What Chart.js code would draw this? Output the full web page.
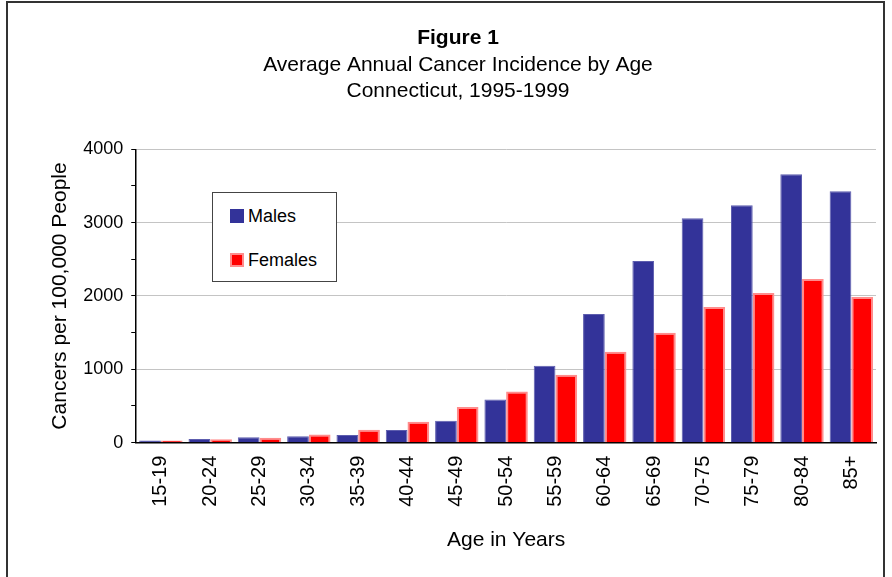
<!DOCTYPE html>
<html>
<head>
<meta charset="utf-8">
<script src="https://cdn.jsdelivr.net/npm/chart.js@4/dist/chart.umd.min.js"></script>
<style>
    body { margin: 0; background: #fff; }
    #wrap { position: relative; width: 892px; height: 577px; overflow: hidden; font-family: "Liberation Sans", Arial, sans-serif; }
    #frame { position: absolute; left: 6px; top: 1px; width: 879px; height: 620px; border: 2px solid #333; box-sizing: border-box; pointer-events: none; }
    #grafico { position: absolute; left: 0; top: 0; }
    #leyenda { position: absolute; left: 212px; top: 192px; width: 125px; height: 90px; border: 1px solid #444; background: #fff; box-sizing: border-box; }
    .item { position: absolute; left: 17px; height: 16px; line-height: 16px; font-size: 18px; color: #000; white-space: nowrap; }
    .item span { display: inline-block; width: 14px; height: 14px; vertical-align: -1px; margin-right: 4px; box-sizing: border-box; }
</style>
</head>
<body>
<div id="wrap">
    <canvas id="grafico" width="892" height="577"></canvas>
    <div id="leyenda">
        <div class="item" style="top:15px"><span id="cuadroM"></span>Males</div>
        <div class="item" style="top:59px"><span id="cuadroF"></span>Females</div>
    </div>
    <div id="frame"></div>
</div>
<script>
// datos
const edades = ["15-19", "20-24", "25-29", "30-34", "35-39", "40-44", "45-49", "50-54",
                "55-59", "60-64", "65-69", "70-75", "75-79", "80-84", "85+"];
const hombres = [30, 50, 72, 86, 104, 172, 299, 590, 1048, 1755, 2476, 3061, 3238, 3660, 3429];
const mujeres = [28, 45, 66, 110, 175, 285, 485, 698, 925, 1238, 1497, 1850, 2041, 2231, 1986];

const COLOR_M = "#333399";
const BORDE_M = "#5d5dae";
const COLOR_F = "#ff0000";
const BORDE_F = "#ff8c8c";

document.getElementById("cuadroM").style.background = COLOR_M;
document.getElementById("cuadroF").style.background = COLOR_F;
document.getElementById("cuadroF").style.border = "2px solid " + BORDE_F;

const fuente = "'Liberation Sans', Arial, sans-serif";

new Chart(document.getElementById("grafico"), {
    type: "bar",
    data: {
        labels: edades,
        datasets: [
            {
                label: "Males",
                data: hombres,
                backgroundColor: COLOR_M,
                borderColor: BORDE_M,
                borderWidth: 1,
                barPercentage: 1,
                categoryPercentage: 0.88
            },
            {
                label: "Females",
                data: mujeres,
                backgroundColor: COLOR_F,
                borderColor: BORDE_F,
                borderWidth: 2,
                barPercentage: 1,
                categoryPercentage: 0.88
            }
        ]
    },
    options: {
        responsive: false,
        animation: false,
        layout: { padding: { left: 40, right: 16, top: 16, bottom: 24 } },
        plugins: {
            legend: { display: false },
            tooltip: { enabled: false },
            title: {
                display: true,
                text: "Figure 1",
                color: "#000",
                font: { family: fuente, size: 21, weight: "bold", lineHeight: 1.2 },
                padding: { top: 10, bottom: 1 }
            },
            subtitle: {
                display: true,
                text: ["Average Annual Cancer Incidence by Age", "Connecticut, 1995-1999"],
                color: "#000",
                font: { family: fuente, size: 21, lineHeight: 1.24 },
                padding: { top: 0, bottom: 45 }
            }
        },
        scales: {
            x: {
                grid: { display: false },
                border: { color: "#000", width: 1.5 },
                ticks: {
                    color: "#000",
                    font: { family: fuente, size: 20 },
                    minRotation: 90,
                    maxRotation: 90,
                    padding: 5
                },
                title: {
                    display: true,
                    text: "Age in Years",
                    color: "#000",
                    font: { family: fuente, size: 21 },
                    padding: { top: 16, bottom: 0 }
                }
            },
            y: {
                min: 0,
                max: 4000,
                border: { color: "#000", width: 1.5 },
                grid: {
                    color: c => (c.tick && c.tick.value % 1000 === 0 && c.tick.value > 0) ? "#c4c4c4" : "rgba(0,0,0,0)",
                    tickColor: "#000",
                    tickLength: 5,
                    lineWidth: 1
                },
                ticks: {
                    stepSize: 500,
                    color: "#000",
                    font: { family: fuente, size: 18 },
                    padding: 8,
                    callback: v => (v % 1000 === 0 ? v : "")
                },
                title: {
                    display: true,
                    text: "Cancers per 100,000 People",
                    color: "#000",
                    font: { family: fuente, size: 21 },
                    padding: { top: 8, bottom: 2 }
                }
            }
        }
    }
});
</script>
</body>
</html>
